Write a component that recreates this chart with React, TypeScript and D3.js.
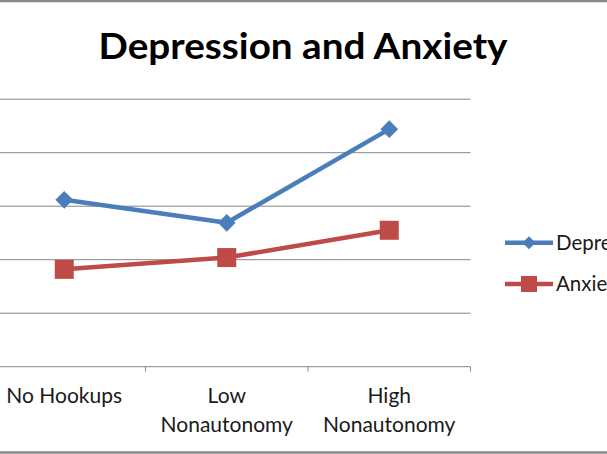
import React from "react";
import * as d3 from "d3";

const categories: string[][] = [["No Hookups"], ["Low", "Nonautonomy"], ["High", "Nonautonomy"]];
const depression: number[] = [3.12, 2.69, 4.44];
const anxiety: number[] = [1.82, 2.04, 2.55];
const yTicks: number[] = [0, 1, 2, 3, 4, 5];
const seriesNames: string[] = ["Depression", "Anxiety"];
const title = "Depression and Anxiety";

const W = 607;
const H = 454;
const FONT = "Lato, 'Open Sans', sans-serif";
const BLUE = "#4A7EBB";
const RED = "#BE4B48";
const GRID = "#868686";

export default function App() {
  const plotLeft = -17;
  const plotRight = 470.5;
  const x = d3
    .scaleBand<number>()
    .domain(categories.map((_, i) => i))
    .range([plotLeft, plotRight])
    .paddingInner(0)
    .paddingOuter(0);
  const cx = (i: number) => (x(i) as number) + x.bandwidth() / 2;
  const y = d3.scaleLinear().domain([0, 5]).range([366.7, 99.2]);

  const line = d3
    .line<number>()
    .x((_, i) => cx(i))
    .y((d) => y(d));

  const diamond = d3.symbol().type(d3.symbolDiamond2).size(200)();
  const sq = 19;

  const legendRows = [
    { name: seriesNames[0], color: BLUE, kind: "diamond", y: 242.7 },
    { name: seriesNames[1], color: RED, kind: "square", y: 284 },
  ];

  const ticks = d3.range(categories.length + 1).map((i) => plotLeft + i * x.bandwidth());

  return (
    <div style={{ position: "fixed", left: 0, top: 0 }}>
      <svg width={W} height={H} style={{ display: "block", background: "#fff" }}>
        <rect x={-20} y={1} width={W + 40} height={451.5} fill="#fff" stroke="#888" strokeWidth={2.5} />
        <text
          x={303}
          y={58.5}
          textAnchor="middle"
          fontFamily={FONT}
          fontWeight={700}
          fontSize={36}
          textLength={409}
          lengthAdjust="spacingAndGlyphs"
          fill="#000"
        >
          {title}
        </text>
        {yTicks.slice(1).map((t) => (
          <line key={t} x1={plotLeft} x2={plotRight} y1={y(t)} y2={y(t)} stroke={GRID} strokeWidth={1} />
        ))}
        <line x1={plotLeft} x2={plotRight} y1={y(0)} y2={y(0)} stroke={GRID} strokeWidth={1} />
        {ticks.map((t, i) => (
          <line key={i} x1={t} x2={t} y1={y(0)} y2={y(0) + 5} stroke={GRID} strokeWidth={1} />
        ))}
        {categories.map((lines, i) =>
          lines.map((l, j) => (
            <text
              key={i + "-" + j}
              x={cx(i)}
              y={403.3 + j * 28.5}
              textAnchor="middle"
              fontFamily={FONT}
              fontSize={21}
              fill="#1a1a1a"
            >
              {l}
            </text>
          ))
        )}
        <path d={line(depression) || ""} fill="none" stroke={BLUE} strokeWidth={4.5} strokeLinejoin="round" />
        <path d={line(anxiety) || ""} fill="none" stroke={RED} strokeWidth={4.5} strokeLinejoin="round" />
        {depression.map((v, i) => (
          <path key={i} d={diamond || ""} transform={`translate(${cx(i)},${y(v)})`} fill={BLUE} />
        ))}
        {anxiety.map((v, i) => (
          <rect key={i} x={cx(i) - sq / 2} y={y(v) - sq / 2} width={sq} height={sq} fill={RED} />
        ))}
        {legendRows.map((r) => (
          <g key={r.name}>
            <line x1={505} x2={553} y1={r.y} y2={r.y} stroke={r.color} strokeWidth={4.5} />
            {r.kind === "diamond" ? (
              <path d={d3.symbol().type(d3.symbolDiamond2).size(110)() || ""} transform={`translate(529,${r.y})`} fill={r.color} />
            ) : (
              <rect x={529 - 8} y={r.y - 8} width={16} height={16} fill={r.color} />
            )}
            <text x={556} y={r.y + 7} fontFamily={FONT} fontSize={20.5} fill="#1a1a1a">
              {r.name}
            </text>
          </g>
        ))}
      </svg>
    </div>
  );
}
